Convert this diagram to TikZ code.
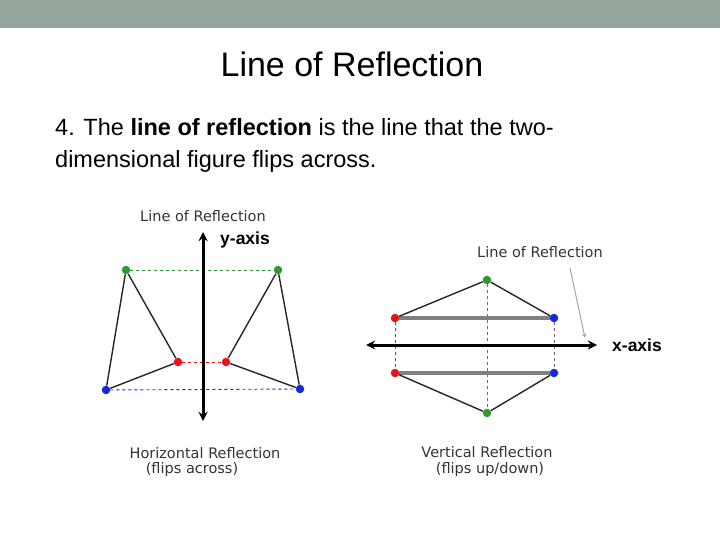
\documentclass[tikz,border=0pt]{standalone}
\usepackage{fontspec}
\setmainfont{Liberation Sans}
\newfontfamily\djfont{DejaVu Sans}
\definecolor{barc}{RGB}{150,165,155}
\definecolor{gr}{RGB}{50,150,50}
\definecolor{rd}{RGB}{230,20,20}
\definecolor{bl}{RGB}{20,40,220}
\begin{document}
\begin{tikzpicture}[x=1pt,y=-1pt,
 dot/.style={circle,fill=#1,inner sep=0pt,minimum size=8.5pt},
 lab/.style={font=\djfont\fontsize{14.5}{16}\selectfont,text=black!80,inner sep=0pt},
 edge/.style={draw=black!85,line width=1.4pt},
 guide/.style={dashed,line width=0.9pt},
 hbar/.style={draw=gray,line width=4pt}]
\useasboundingbox (0,0) rectangle (720,540);
\fill[barc] (0,0) rectangle (720,28);
\node[font=\fontsize{34}{38}\selectfont] (title) at (352,64) {Line of Reflection};
\node[anchor=west,font=\fontsize{23.5}{26}\selectfont,align=left,inner sep=0pt] (txt) at (55,145)
 {4. The \textbf{line of reflection} is the line that the two-\\[6pt]dimensional figure flips across.};
% left figure
\node[dot=gr] (g1) at (126,270) {}; \node[dot=gr] (g2) at (278,270) {};
\node[dot=rd] (r1) at (178,362) {}; \node[dot=rd] (r2) at (226,362) {};
\node[dot=bl] (b1) at (106,390) {}; \node[dot=bl] (b2) at (300,389) {};
\draw[guide,gr] (g1)--(g2); \draw[guide,rd] (r1)--(r2); \draw[guide,bl] (b1)--(b2);
\draw[edge] (g1)--(r1)--(b1)--(g1); \draw[edge] (g2)--(r2)--(b2)--(g2);
\coordinate (yt) at (203,232); \coordinate (yb) at (203,421);
\draw[line width=3pt,<->,>=stealth] (yt)--(yb);
\node[lab] (l1) at (203,216) {Line of Reflection};
\node[font=\bfseries\fontsize{17.5}{19}\selectfont] (ya) at (245,240) {y-axis};
\node[lab] (h1) at (205,453) {Horizontal Reflection};
\node[lab] (h2) at (192,469) {(flips across)};
% right figure
\node[dot=gr] (G1) at (487,280) {}; \node[dot=gr] (G2) at (487,413) {};
\node[dot=rd] (R1) at (395,318) {}; \node[dot=rd] (R2) at (395,373) {};
\node[dot=bl] (B1) at (554,318) {}; \node[dot=bl] (B2) at (554,373) {};
\draw[guide,gr] (G1)--(G2); \draw[guide,rd] (R1)--(R2); \draw[guide,black!60] (B1)--(B2);
\draw[hbar] (R1)--(B1); \draw[hbar] (R2)--(B2);
\draw[edge] (R1)--(G1)--(B1); \draw[edge] (R2)--(G2)--(B2);
\coordinate (xl) at (366,345); \coordinate (xr) at (597,345);
\draw[line width=3pt,<->,>=stealth] (xl)--(xr);
\node[font=\bfseries\fontsize{17.5}{19}\selectfont] (xa) at (637,345) {x-axis};
\node[lab] (l2) at (540,252) {Line of Reflection};
\coordinate (pa) at (570,268); \coordinate (pb) at (585,338);
\draw[gray!70,line width=1pt,->,>=stealth] (pa)--(pb);
\node[lab] (v1) at (487,452) {Vertical Reflection};
\node[lab] (v2) at (490,469) {(flips up/down)};
\end{tikzpicture}
\end{document}
